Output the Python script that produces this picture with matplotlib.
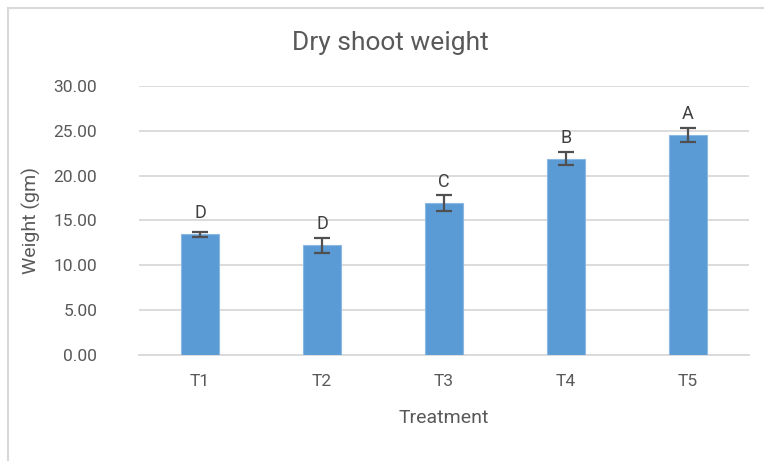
import matplotlib
matplotlib.use("Agg")
import matplotlib.pyplot as plt
from matplotlib.lines import Line2D

categories = ["T1", "T2", "T3", "T4", "T5"]
values = [13.45, 12.22, 16.96, 21.9, 24.56]
errors = [0.25, 0.8, 0.85, 0.7, 0.8]
letters = ["D", "D", "C", "B", "A"]
yticks = [0, 5, 10, 15, 20, 25, 30]

plt.rcParams['font.family'] = ['Roboto', 'DejaVu Sans']
txt = '#595959'

fig = plt.figure(figsize=(7.64, 4.61), dpi=100)
W, H = 764, 461
fig.lines.append(Line2D([8 / W, 8 / W], [0, 1 - 8 / H], transform=fig.transFigure,
                        color='#D9D9D9', linewidth=1.5))
fig.lines.append(Line2D([8 / W, 1.01], [1 - 8 / H, 1 - 8 / H], transform=fig.transFigure,
                        color='#D9D9D9', linewidth=1.5))
ax = fig.add_axes([139 / W, 106 / H, 610 / W, 269 / H])
x = range(len(categories))
ax.bar(x, values, width=0.31, color='#5B9BD5', edgecolor='#8AB8E3', linewidth=0.8, zorder=3)
ax.errorbar(x, values, yerr=errors, fmt='none', ecolor='#505050', elinewidth=1.6,
            capsize=6, capthick=1.6, zorder=4)
for xi, v, l in zip(x, values, letters):
    ax.text(xi, v + 2.35, l, ha='center', va='center', fontsize=13, color='#404040')
ax.set_xlim(-0.5, len(categories) - 0.5)
ax.set_ylim(0, 30)
ax.set_yticks(yticks)
ax.set_yticklabels([f"{t:.2f}" for t in yticks])
ax.set_xticks(list(x))
ax.set_xticklabels(categories)
ax.yaxis.grid(True, color='#D9D9D9', linewidth=1.3, zorder=0)
ax.set_axisbelow(True)
for s in ['top', 'right', 'left']:
    ax.spines[s].set_visible(False)
ax.spines['bottom'].set_color('#D9D9D9')
ax.spines['bottom'].set_linewidth(1.3)
ax.tick_params(axis='both', length=0, labelsize=12.5, labelcolor=txt)
ax.tick_params(axis='y', pad=30)
ax.tick_params(axis='x', pad=14)
ax.set_xlabel("Treatment", fontsize=14, color=txt, labelpad=14)
ax.set_ylabel("Weight (gm)", fontsize=14, color=txt, labelpad=9)
fig.text(390 / W, 1 - 43 / H, "Dry shoot weight", ha='center', va='center', fontsize=19, color=txt)
fig.savefig("out.png", dpi=100)
